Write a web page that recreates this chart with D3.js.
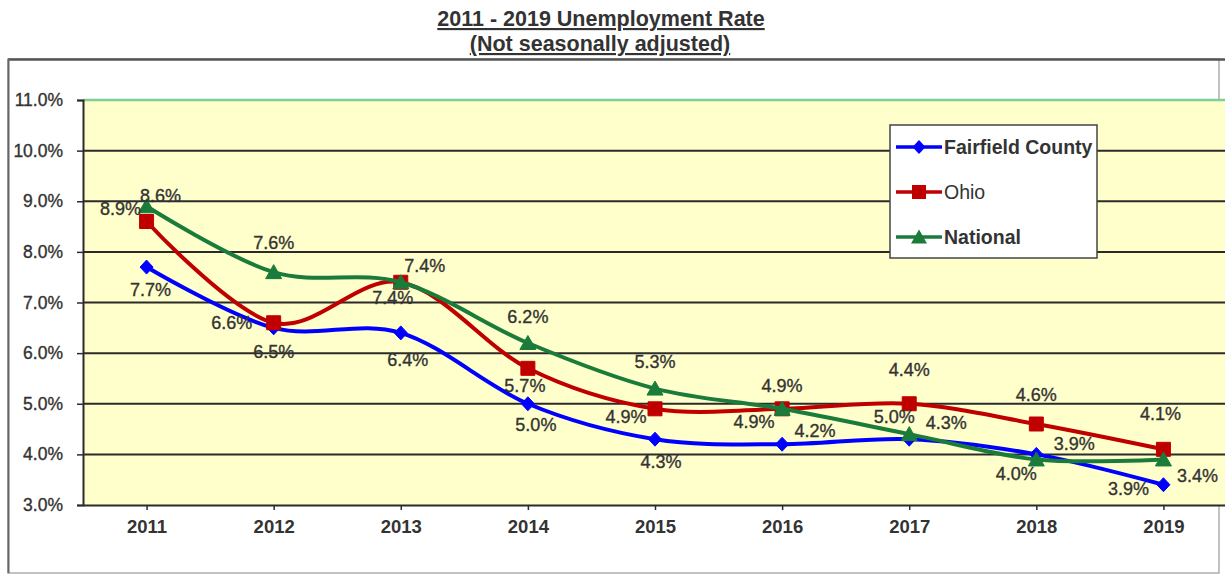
<!DOCTYPE html>
<html>
<head>
<meta charset="utf-8">
<script src="https://cdn.jsdelivr.net/npm/d3@7"></script>
<style>
  html, body { margin: 0; padding: 0; background: #fff; }
  svg { display: block; }
  text { font-family: "Liberation Sans", Arial, sans-serif; fill: #333; }
</style>
</head>
<body>
<svg id="chart" width="1225" height="576"></svg>
<script>
// Unemployment rate by year, in percent
const years = ["2011", "2012", "2013", "2014", "2015", "2016", "2017", "2018", "2019"];
const fairfield = [7.7, 6.5, 6.4, 5.0, 4.3, 4.2, 4.3, 4.0, 3.4];
const ohio      = [8.6, 6.6, 7.4, 5.7, 4.9, 4.9, 5.0, 4.6, 4.1];
const national  = [8.9, 7.6, 7.4, 6.2, 5.3, 4.9, 4.4, 3.9, 3.9];
const yTicks = [3, 4, 5, 6, 7, 8, 9, 10, 11];
const seriesNames = ["Fairfield County", "Ohio", "National"];

// Hand-placed data label offsets (dx, dy in px from each point)
const fairfieldLabelOffsets = [[4, 23], [0, 24], [7, 27], [8, 21], [6, 23], [33, -13], [37, -16], [-20, 20], [34, -9]];
const ohioLabelOffsets      = [[14, -26], [-42, 0], [24, -16], [-3, 18], [-29, 8], [0, -23], [-15, 13], [0, -29], [-3, -35]];
const nationalLabelOffsets  = [[-26, 3], [0, -29], [-8, 16], [0, -26], [0, -27], [-28, 13], [0, -64], [38, -15], [-35, 30]];

const svg = d3.select("#chart");
const plot = { left: 83, top: 100, right: 1227, bottom: 505 };

const x = d3.scalePoint().domain(years).range([plot.left, plot.right]).padding(0.5);
const y = d3.scaleLinear().domain([3, 11]).range([plot.bottom, plot.top]);

// Title
const title = svg.append("g").attr("text-anchor", "middle");
title.append("text").attr("x", 601).attr("y", 26)
  .attr("font-size", 21.5).attr("font-weight", "bold")
  .style("text-decoration", "underline")
  .text("2011 - 2019 Unemployment Rate");
title.append("text").attr("x", 600).attr("y", 51)
  .attr("font-size", 21.5).attr("font-weight", "bold")
  .style("text-decoration", "underline")
  .text("(Not seasonally adjusted)");

// Chart frame
svg.append("rect").attr("x", 8).attr("y", 59).attr("width", 1211).attr("height", 514)
  .attr("fill", "none").attr("stroke", "#999").attr("stroke-width", 1.2);
svg.append("line").attr("x1", 8).attr("x2", 1225).attr("y1", 59.5).attr("y2", 59.5)
  .attr("stroke", "#555").attr("stroke-width", 2.5);
svg.append("line").attr("x1", 8.5).attr("x2", 8.5).attr("y1", 59).attr("y2", 573)
  .attr("stroke", "#666").attr("stroke-width", 2);

// Plot background
svg.append("rect").attr("x", plot.left).attr("y", plot.top)
  .attr("width", plot.right - plot.left).attr("height", plot.bottom - plot.top)
  .attr("fill", "#FFFFCC");

// Gridlines
svg.append("g").selectAll("line").data(yTicks.filter(t => t > 3)).join("line")
  .attr("x1", plot.left).attr("x2", plot.right)
  .attr("y1", d => y(d)).attr("y2", d => y(d))
  .attr("stroke", d => d === 11 ? "#7FCF95" : "#2b2b2b")
  .attr("stroke-width", d => d === 11 ? 2.5 : 2);

// Y axis
const yAxis = d3.axisLeft(y).tickValues(yTicks).tickSize(6).tickPadding(14)
  .tickFormat(d => d.toFixed(1) + "%");
const gy = svg.append("g").attr("transform", `translate(${plot.left},0)`).call(yAxis);
gy.select(".domain").attr("stroke", "#2b2b2b").attr("stroke-width", 2);
gy.selectAll(".tick line").attr("stroke", "#2b2b2b").attr("stroke-width", 1.5);
gy.selectAll(".tick text").attr("font-size", 17.5).attr("fill", "#333")
  .attr("stroke", "#333").attr("stroke-width", 0.35)
  .attr("font-family", "Liberation Sans, Arial, sans-serif");

// X axis
const xAxis = d3.axisBottom(x).tickSize(5).tickPadding(10).tickSizeOuter(0);
const gx = svg.append("g").attr("transform", `translate(0,${plot.bottom})`).call(xAxis);
gx.select(".domain").attr("stroke", "#2b2b2b").attr("stroke-width", 2);
gx.selectAll(".tick line").attr("stroke", "#2b2b2b").attr("stroke-width", 1.5);
gx.selectAll(".tick text").attr("font-size", 18.5).attr("font-weight", "bold").attr("fill", "#333")
  .attr("font-family", "Liberation Sans, Arial, sans-serif");

// Series
const series = [
  { name: seriesNames[0], values: fairfield, color: "#0000FF", shape: "diamond", offsets: fairfieldLabelOffsets },
  { name: seriesNames[1], values: ohio,      color: "#C00000", shape: "square",  offsets: ohioLabelOffsets },
  { name: seriesNames[2], values: national,  color: "#1A7B3A", shape: "triangle", offsets: nationalLabelOffsets }
];

function markerPath(shape) {
  if (shape === "diamond") return "M0,-7L6.5,0L0,7L-6.5,0Z";
  if (shape === "square") return "M-7,-7H7V7H-7Z";
  return "M0,-7.5L8,6.5L-8,6.5Z";
}

const line = d3.line()
  .x((d, i) => x(years[i]))
  .y(d => y(d))
  .curve(d3.curveCardinal.tension(0));

const gSeries = svg.append("g");
series.forEach(s => {
  const g = gSeries.append("g");
  g.append("path").datum(s.values).attr("d", line)
    .attr("fill", "none").attr("stroke", s.color).attr("stroke-width", 4)
    .attr("stroke-linejoin", "round");
  g.selectAll("path.marker").data(s.values).join("path").attr("class", "marker")
    .attr("transform", (d, i) => `translate(${x(years[i])},${y(d)})`)
    .attr("d", markerPath(s.shape))
    .attr("fill", s.color).attr("stroke", s.color).attr("stroke-width", 1);
});

// Data labels
series.forEach(s => {
  svg.append("g").selectAll("text").data(s.values).join("text")
    .attr("x", (d, i) => x(years[i]) + s.offsets[i][0])
    .attr("y", (d, i) => y(d) + s.offsets[i][1])
    .attr("text-anchor", "middle").attr("dominant-baseline", "central")
    .attr("font-size", 18).attr("fill", "#333")
    .attr("stroke", "#333").attr("stroke-width", 0.35)
    .text(d => d.toFixed(1) + "%");
});

// Legend
const legend = svg.append("g").attr("transform", "translate(890,125)");
legend.append("rect").attr("width", 207).attr("height", 133)
  .attr("fill", "#fff").attr("stroke", "#444").attr("stroke-width", 1.5);
const legendRows = legend.selectAll("g.row").data(series).join("g").attr("class", "row")
  .attr("transform", (d, i) => `translate(0,${22 + i * 45})`);
legendRows.append("line").attr("x1", 6).attr("x2", 52).attr("y1", 0).attr("y2", 0)
  .attr("stroke", d => d.color).attr("stroke-width", 3.5);
legendRows.append("path").attr("transform", "translate(29,0)")
  .attr("d", d => markerPath(d.shape)).attr("fill", d => d.color);
legendRows.append("text").attr("x", 54).attr("y", 0).attr("dominant-baseline", "central")
  .attr("font-size", 19.5).attr("font-weight", (d, i) => i === 1 ? "normal" : "bold")
  .attr("fill", (d, i) => i === 1 ? "#6E5FA0" : "#333")
  .text(d => d.name);
</script>
</body>
</html>
